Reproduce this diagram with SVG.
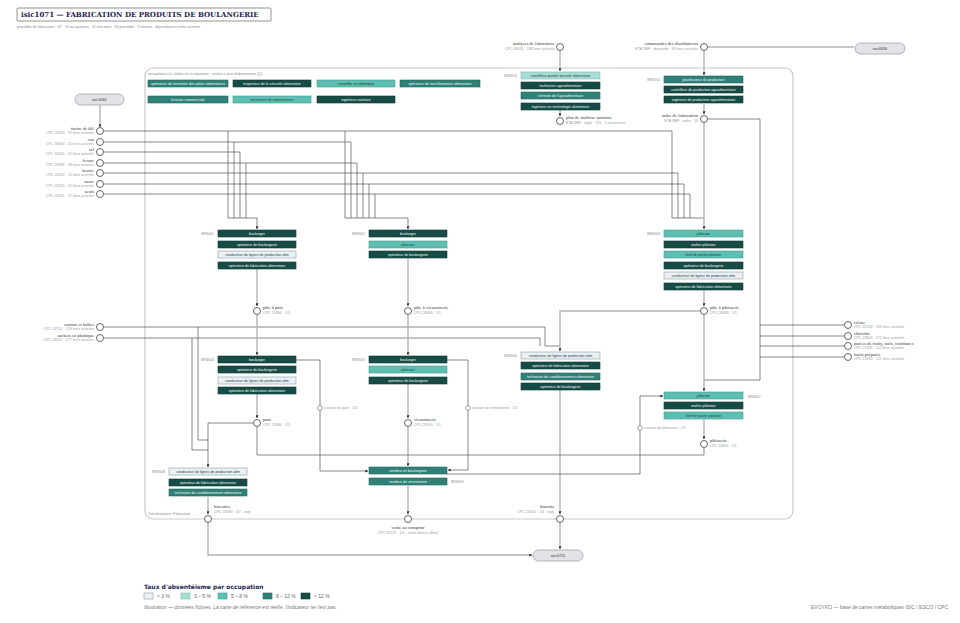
<svg xmlns="http://www.w3.org/2000/svg" width="960" height="623" viewBox="0 0 960 623">
<style>
.bg{fill:#ffffff}
.ttl{font-family:"DejaVu Serif",serif;font-weight:bold;font-size:7px;fill:#1c2450}
.sub{font-family:"Liberation Sans",sans-serif;font-size:3.6px;fill:#888}
.nm{font-family:"Liberation Serif",serif;font-size:4.6px;fill:#333}
.cd{font-family:"Liberation Sans",sans-serif;font-size:3.6px;fill:#999}
.bx{font-family:"Liberation Sans",sans-serif;font-size:3.6px;text-anchor:middle}
.wt{fill:#eef7f5}
.dk{fill:#1d3b3a}
.code{font-family:"Liberation Sans",sans-serif;font-size:3.4px;fill:#888}
.c0{fill:#eaf1f5;stroke:#8a9aa5;stroke-width:0.6}
.c1{fill:#a8ddd5;stroke:#7cbfb5;stroke-width:0.6}
.c2{fill:#5cbfb1;stroke:#3f9e92;stroke-width:0.6}
.c3{fill:#2f8077;stroke:#236a62;stroke-width:0.6}
.c4{fill:#174c46;stroke:#0f3a35;stroke-width:0.6}
.nd{fill:#fff;stroke:#555;stroke-width:0.9}
.sn{fill:#fff;stroke:#777;stroke-width:0.7}
.pill{fill:#e2e2e7;stroke:#9a9aa2;stroke-width:0.7}
.pt{font-family:"Liberation Sans",sans-serif;font-size:4px;fill:#333;text-anchor:middle}
.ln{fill:none;stroke:#555;stroke-width:0.7}
.pl{fill:none;stroke:#b4b4b4;stroke-width:1.4}
.ct{fill:none;stroke:#c9c9c9;stroke-width:1.2}
.lg{font-family:"DejaVu Sans",sans-serif;font-weight:bold;font-size:6px;fill:#1c2450}
.lt{font-family:"Liberation Sans",sans-serif;font-size:5px;fill:#666}
.ft{font-family:"Liberation Sans",sans-serif;font-size:5px;fill:#777}
</style>
<defs>
<marker id="ar" viewBox="0 0 6 6" refX="5.5" refY="3" markerWidth="3" markerHeight="3" orient="auto" markerUnits="userSpaceOnUse"><path d="M0,0 L6,3 L0,6 z" fill="#333"/></marker>
</defs>
<rect class="bg" width="960" height="623"/>

<g id="header">
<rect x="17" y="8" width="254" height="13" fill="#fff" stroke="#777" stroke-width="0.8" rx="1"/>
<text class="ttl" x="21" y="16.8">isic1071 — FABRICATION DE PRODUITS DE BOULANGERIE</text>
<text class="sub" x="17" y="28">procédés de fabrication · 47 · 13 occupations · 11 fonctions · 16 procédés · 3 intrants · dépendances entre activités</text>
</g>

<g id="container">
<rect class="ct" x="145" y="68" width="648" height="451" rx="8"/>
<text class="code" x="148" y="75">occupations à la chaîne sur la répartition · couleur = taux d'absentéisme (Q)</text>
<text class="code" x="148" y="515" font-style="italic">Transformation / Fabrication</text>
</g>

<g id="occupations-legend">
<rect class="c3" x="148" y="80" width="80" height="7"/><text class="bx wt" x="188" y="84.8">opératrice de formation des pâtes alimentaires</text>
<rect class="c4" x="233" y="80" width="78" height="7"/><text class="bx wt" x="272" y="84.8">inspecteur de la sécurité alimentaire</text>
<rect class="c2" x="317" y="80" width="78" height="7"/><text class="bx dk" x="356" y="84.8">conseiller en diététique</text>
<rect class="c3" x="400" y="80" width="80" height="7"/><text class="bx wt" x="440" y="84.8">opérateur de transformation alimentaire</text>
<rect class="c3" x="148" y="96" width="80" height="7"/><text class="bx wt" x="188" y="100.8">livreuse commerciale</text>
<rect class="c2" x="233" y="96" width="78" height="7"/><text class="bx dk" x="272" y="100.8">technicien de maintenance</text>
<rect class="c4" x="317" y="96" width="78" height="7"/><text class="bx wt" x="356" y="100.8">ingénieur sanitaire</text>
</g>

<g id="connectors">
<path class="pl" d="M100,105 V127" marker-end="url(#ar)"/>
<path class="ln" d="M104,131 H672 V218"/>
<path class="ln" d="M228,131 V218"/>
<path class="ln" d="M345,131 V218"/>
<path class="ln" d="M104,142 H351 V218"/>
<path class="ln" d="M234,142 V218"/>
<path class="ln" d="M104,152 H240 V218"/>
<path class="ln" d="M104,163 H357 V218"/>
<path class="ln" d="M246,163 V218"/>
<path class="ln" d="M104,173 H678 V218"/>
<path class="ln" d="M363,173 V218"/>
<path class="ln" d="M104,184 H684 V218"/>
<path class="ln" d="M369,184 V218"/>
<path class="ln" d="M104,194 H690 V218"/>
<path class="ln" d="M375,194 V218"/>
<path class="ln" d="M228,218 H257 V229" marker-end="url(#ar)"/>
<path class="ln" d="M345,218 H408 V229" marker-end="url(#ar)"/>
<path class="ln" d="M672,218 H704"/>
<path class="ln" d="M104,327 H545 V346 H560"/>
<path class="ln" d="M104,338 H540 V346"/>
<path class="ln" d="M198,327 V440 H208"/>
<path class="ln" d="M192,338 V450 H208"/>
<path class="ln" d="M844,325 H760"/>
<path class="ln" d="M844,336 H760"/>
<path class="ln" d="M844,346 H760"/>
<path class="ln" d="M844,357 H760"/>
<path class="ln" d="M708,119 H760 V380 H704"/>
<path class="pl" d="M257,269 V306" marker-end="url(#ar)"/>
<path class="pl" d="M257,315 V355" marker-end="url(#ar)"/>
<path class="pl" d="M257,394 V418" marker-end="url(#ar)"/>
<path class="pl" d="M408,258 V306" marker-end="url(#ar)"/>
<path class="pl" d="M408,315 V355" marker-end="url(#ar)"/>
<path class="pl" d="M408,384 V418" marker-end="url(#ar)"/>
<path class="pl" d="M408,427 V466" marker-end="url(#ar)"/>
<path class="pl" d="M408,486 V514" marker-end="url(#ar)"/>
<path class="pl" d="M560,51 V71" marker-end="url(#ar)"/>
<path class="pl" d="M560,110 V116" marker-end="url(#ar)"/>
<path class="pl" d="M704,51 V75" marker-end="url(#ar)"/>
<path class="pl" d="M704,104 V114" marker-end="url(#ar)"/>
<path class="pl" d="M704,123 V229" marker-end="url(#ar)"/>
<path class="pl" d="M704,290 V306" marker-end="url(#ar)"/>
<path class="pl" d="M704,315 V391" marker-end="url(#ar)"/>
<path class="pl" d="M704,419 V439" marker-end="url(#ar)"/>
<path class="pl" d="M700,311 H560 V351" marker-end="url(#ar)"/>
<path class="pl" d="M560,390 V514" marker-end="url(#ar)"/>
<path class="pl" d="M560,523 V549" marker-end="url(#ar)"/>
<path class="pl" d="M708,47 H854"/>
<path class="ln" d="M257,427 V455 H704 V448"/>
<path class="ln" d="M253,423 H208 V467" marker-end="url(#ar)"/>
<path class="pl" d="M208,497 V514" marker-end="url(#ar)"/>
<path class="pl" d="M208,523 V555 H532" marker-end="url(#ar)"/>
<path class="ln" d="M296,360 H320 V471 H368" marker-end="url(#ar)"/>
<path class="ln" d="M447,360 H468 V470 H448" marker-end="url(#ar)"/>
<path class="ln" d="M447,474 H640 V396 H663" marker-end="url(#ar)"/>
</g>

<g id="pill-isic1061"><rect class="pill" x="75" y="94" width="49" height="11" rx="5.5"/><text class="pt" x="99.5" y="101">isic1061</text></g>
<g id="pill-isic4630"><rect class="pill" x="855" y="43" width="50" height="11" rx="5.5"/><text class="pt" x="880" y="50">isic4630</text></g>
<g id="pill-isic4721"><rect class="pill" x="533" y="550" width="50" height="11" rx="5.5"/><text class="pt" x="558" y="557">isic4721</text></g>

<g id="in-farine"><circle class="nd" cx="100" cy="131" r="3.5"/><text class="nm" x="94" y="129.5" text-anchor="end">farine de blé</text><text class="cd" x="94" y="134" text-anchor="end">CPC 23110 · 29 liens activités</text></g>
<g id="in-eau"><circle class="nd" cx="100" cy="142" r="3.5"/><text class="nm" x="94" y="140.5" text-anchor="end">eau</text><text class="cd" x="94" y="145" text-anchor="end">CPC 18000 · 21 liens activités</text></g>
<g id="in-sel"><circle class="nd" cx="100" cy="152" r="3.5"/><text class="nm" x="94" y="150.5" text-anchor="end">sel</text><text class="cd" x="94" y="155" text-anchor="end">CPC 16200 · 15 liens activités</text></g>
<g id="in-levure"><circle class="nd" cx="100" cy="163" r="3.5"/><text class="nm" x="94" y="161.5" text-anchor="end">levure</text><text class="cd" x="94" y="166" text-anchor="end">CPC 23996 · 18 liens activités</text></g>
<g id="in-beurre"><circle class="nd" cx="100" cy="173" r="3.5"/><text class="nm" x="94" y="171.5" text-anchor="end">beurre</text><text class="cd" x="94" y="176" text-anchor="end">CPC 22241 · 11 liens activités</text></g>
<g id="in-sucre"><circle class="nd" cx="100" cy="184" r="3.5"/><text class="nm" x="94" y="182.5" text-anchor="end">sucre</text><text class="cd" x="94" y="187" text-anchor="end">CPC 23520 · 16 liens activités</text></g>
<g id="in-oeufs"><circle class="nd" cx="100" cy="194" r="3.5"/><text class="nm" x="94" y="192.5" text-anchor="end">œufs</text><text class="cd" x="94" y="197" text-anchor="end">CPC 02931 · 17 liens activités</text></g>
<g id="in-cartons"><circle class="nd" cx="100" cy="327" r="3.5"/><text class="nm" x="94" y="325.5" text-anchor="end">cartons et boîtes</text><text class="cd" x="94" y="330" text-anchor="end">CPC 32151 · 128 liens activités</text></g>
<g id="in-sachets"><circle class="nd" cx="100" cy="338" r="3.5"/><text class="nm" x="94" y="336.5" text-anchor="end">sachets en plastique</text><text class="cd" x="94" y="341" text-anchor="end">CPC 36410 · 177 liens activités</text></g>

<g id="in-creme"><circle class="nd" cx="848" cy="325" r="3.5"/><text class="nm" x="854" y="323.5">crème</text><text class="cd" x="854" y="328">CPC 22120 · 120 liens activités</text></g>
<g id="in-chocolat"><circle class="nd" cx="848" cy="336" r="3.5"/><text class="nm" x="854" y="334.5">chocolat</text><text class="cd" x="854" y="339">CPC 23650 · 171 liens activités</text></g>
<g id="in-purees"><circle class="nd" cx="848" cy="346" r="3.5"/><text class="nm" x="854" y="344.5">purées de fruits, noix, confitures</text><text class="cd" x="854" y="349">CPC 21400 · 112 liens activités</text></g>
<g id="in-fruits"><circle class="nd" cx="848" cy="357" r="3.5"/><text class="nm" x="854" y="355.5">fruits préparés</text><text class="cd" x="854" y="360">CPC 21490 · 121 liens activités</text></g>

<g id="n-analyses"><circle class="nd" cx="560" cy="47" r="3.5"/><text class="nm" x="555" y="45" text-anchor="end">analyses de laboratoire</text><text class="cd" x="555" y="49.5" text-anchor="end">CPC 83441 · 138 liens activités</text></g>
<g id="n-commandes"><circle class="nd" cx="704" cy="47" r="3.5"/><text class="nm" x="698" y="45" text-anchor="end">commandes des distributeurs</text><text class="cd" x="698" y="49.5" text-anchor="end">ETA.3MF · demande · 18 liens activités</text></g>
<g id="n-plan"><circle class="nd" cx="560" cy="121" r="3.5"/><text class="nm" x="566" y="119">plan de maîtrise sanitaire</text><text class="cd" x="566" y="123.5">ETA.3MF · règle · 131 · 1 occurrence</text></g>
<g id="n-ordre"><circle class="nd" cx="704" cy="119" r="3.5"/><text class="nm" x="698" y="117" text-anchor="end">ordre de fabrication</text><text class="cd" x="698" y="121.5" text-anchor="end">ETA.3MF · ordre · 19</text></g>
<g id="n-pate-pain"><circle class="nd" cx="257" cy="311" r="3.5"/><text class="nm" x="263" y="309">pâte à pain</text><text class="cd" x="263" y="313.5">CPC 23490 · 1/3</text></g>
<g id="n-pate-vien"><circle class="nd" cx="408" cy="311" r="3.5"/><text class="nm" x="414" y="309">pâte à viennoiserie</text><text class="cd" x="414" y="313.5">CPC 23490 · 1/1</text></g>
<g id="n-pate-pat"><circle class="nd" cx="704" cy="311" r="3.5"/><text class="nm" x="710" y="309">pâte à pâtisserie</text><text class="cd" x="710" y="313.5">CPC 23490 · 1/1</text></g>
<g id="n-pain"><circle class="nd" cx="257" cy="423" r="3.5"/><text class="nm" x="263" y="421">pain</text><text class="cd" x="263" y="425.5">CPC 23490 · 1/2</text></g>
<g id="n-vien"><circle class="nd" cx="408" cy="423" r="3.5"/><text class="nm" x="414" y="421">viennoiserie</text><text class="cd" x="414" y="425.5">CPC 23910 · 1/1</text></g>
<g id="n-pat"><circle class="nd" cx="704" cy="444" r="3.5"/><text class="nm" x="710" y="442">pâtisserie</text><text class="cd" x="710" y="446.5">CPC 23490 · 1/1</text></g>
<g id="n-biscottes"><circle class="nd" cx="208" cy="519" r="3.5"/><text class="nm" x="214" y="508">biscottes</text><text class="cd" x="214" y="512.5">CPC 23490 · 1/7 · sept</text></g>
<g id="n-vente"><circle class="nd" cx="408" cy="519" r="3.5"/><text class="nm" x="408" y="529" text-anchor="middle">vente au comptoir</text><text class="cd" x="408" y="533.5" text-anchor="middle">CPC 62122 · 1/4 · vente directe (bloc)</text></g>
<g id="n-biscuits"><circle class="nd" cx="560" cy="519" r="3.5"/><text class="nm" x="554" y="508" text-anchor="end">biscuits</text><text class="cd" x="554" y="512.5" text-anchor="end">CPC 23410 · 1/4 · sept</text></g>

<g id="s-cuisson-pain"><circle class="sn" cx="320" cy="408" r="2.3"/><text class="cd" x="324" y="409.3">cuisson du pain · 1/2</text></g>
<g id="s-cuisson-vien"><circle class="sn" cx="468" cy="408" r="2.3"/><text class="cd" x="472" y="409.3">cuisson de viennoiserie · 1/1</text></g>
<g id="s-cuisson-pat"><circle class="sn" cx="640" cy="428" r="2.3"/><text class="cd" x="644" y="429.3">cuisson de pâtisserie · 1/1</text></g>

<g id="a-qualite">
<text class="code" x="517" y="77" text-anchor="end">BRS014</text>
<rect class="c1" x="521" y="72" width="79" height="7"/><text class="bx dk" x="560.5" y="76.8">contrôleur qualité sécurité alimentaire</text>
<rect class="c4" x="521" y="82" width="79" height="7"/><text class="bx wt" x="560.5" y="86.8">technicien agroalimentaire</text>
<rect class="c3" x="521" y="92" width="79" height="7"/><text class="bx wt" x="560.5" y="96.8">chimiste de l'agroalimentaire</text>
<rect class="c4" x="521" y="103" width="79" height="7"/><text class="bx wt" x="560.5" y="107.8">ingénieur en technologie alimentaire</text>
</g>
<g id="a-planif">
<text class="code" x="660" y="81" text-anchor="end">BRS015</text>
<rect class="c3" x="664" y="76" width="79" height="7"/><text class="bx wt" x="703.5" y="80.8">planificateur de production</text>
<rect class="c4" x="664" y="86" width="79" height="7"/><text class="bx wt" x="703.5" y="90.8">contrôleur de production agroalimentaire</text>
<rect class="c4" x="664" y="96" width="79" height="7"/><text class="bx wt" x="703.5" y="100.8">ingénieur de production agroalimentaire</text>
</g>
<g id="a-petrissage-pain">
<text class="code" x="214" y="235" text-anchor="end">BRS001</text>
<rect class="c4" x="218" y="230" width="78" height="7"/><text class="bx wt" x="257" y="234.8">boulanger</text>
<rect class="c4" x="218" y="241" width="78" height="7"/><text class="bx wt" x="257" y="245.8">opérateur de boulangerie</text>
<rect class="c0" x="218" y="251" width="78" height="7"/><text class="bx dk" x="257" y="255.8">conducteur de lignes de production alim</text>
<rect class="c4" x="218" y="262" width="78" height="7"/><text class="bx wt" x="257" y="266.8">opérateur de fabrication alimentaire</text>
</g>
<g id="a-petrissage-vien">
<text class="code" x="365" y="235" text-anchor="end">BRS002</text>
<rect class="c4" x="369" y="230" width="78" height="7"/><text class="bx wt" x="408" y="234.8">boulanger</text>
<rect class="c2" x="369" y="241" width="78" height="7"/><text class="bx dk" x="408" y="245.8">pâtissier</text>
<rect class="c4" x="369" y="251" width="78" height="7"/><text class="bx wt" x="408" y="255.8">opérateur de boulangerie</text>
</g>
<g id="a-petrissage-pat">
<text class="code" x="660" y="235" text-anchor="end">BRS003</text>
<rect class="c2" x="664" y="230" width="79" height="7"/><text class="bx dk" x="703.5" y="234.8">pâtissier</text>
<rect class="c4" x="664" y="241" width="79" height="7"/><text class="bx wt" x="703.5" y="245.8">maître pâtissier</text>
<rect class="c2" x="664" y="251" width="79" height="7"/><text class="bx dk" x="703.5" y="255.8">chef de partie pâtissier</text>
<rect class="c4" x="664" y="262" width="79" height="7"/><text class="bx wt" x="703.5" y="266.8">opérateur de boulangerie</text>
<rect class="c0" x="664" y="272" width="79" height="7"/><text class="bx dk" x="703.5" y="276.8">conducteur de lignes de production alim</text>
<rect class="c4" x="664" y="283" width="79" height="7"/><text class="bx wt" x="703.5" y="287.8">opérateur de fabrication alimentaire</text>
</g>
<g id="a-cuisson-pain">
<text class="code" x="214" y="361" text-anchor="end">BRS004</text>
<rect class="c4" x="218" y="356" width="78" height="7"/><text class="bx wt" x="257" y="360.8">boulanger</text>
<rect class="c4" x="218" y="366" width="78" height="7"/><text class="bx wt" x="257" y="370.8">opérateur de boulangerie</text>
<rect class="c0" x="218" y="377" width="78" height="7"/><text class="bx dk" x="257" y="381.8">conducteur de lignes de production alim</text>
<rect class="c4" x="218" y="387" width="78" height="7"/><text class="bx wt" x="257" y="391.8">opérateur de fabrication alimentaire</text>
</g>
<g id="a-cuisson-vien">
<text class="code" x="365" y="361" text-anchor="end">BRS005</text>
<rect class="c4" x="369" y="356" width="78" height="7"/><text class="bx wt" x="408" y="360.8">boulanger</text>
<rect class="c2" x="369" y="366" width="78" height="7"/><text class="bx dk" x="408" y="370.8">pâtissier</text>
<rect class="c4" x="369" y="377" width="78" height="7"/><text class="bx wt" x="408" y="381.8">opérateur de boulangerie</text>
</g>
<g id="a-biscuits">
<text class="code" x="517" y="357" text-anchor="end">BRS006</text>
<rect class="c0" x="521" y="352" width="79" height="7"/><text class="bx dk" x="560.5" y="356.8">conducteur de lignes de production alim</text>
<rect class="c4" x="521" y="362" width="79" height="7"/><text class="bx wt" x="560.5" y="366.8">opérateur de fabrication alimentaire</text>
<rect class="c3" x="521" y="373" width="79" height="7"/><text class="bx wt" x="560.5" y="377.8">technicien de conditionnement alimentaire</text>
<rect class="c4" x="521" y="383" width="79" height="7"/><text class="bx wt" x="560.5" y="387.8">opérateur de boulangerie</text>
</g>
<g id="a-patisserie">
<text class="code" x="748" y="397.5">BRS007</text>
<rect class="c2" x="664" y="392" width="79" height="7"/><text class="bx dk" x="703.5" y="396.8">pâtissier</text>
<rect class="c4" x="664" y="402" width="79" height="7"/><text class="bx wt" x="703.5" y="406.8">maître pâtissier</text>
<rect class="c2" x="664" y="412" width="79" height="7"/><text class="bx dk" x="703.5" y="416.8">chef de partie pâtissier</text>
</g>
<g id="a-biscottes">
<text class="code" x="165" y="473" text-anchor="end">BRS008</text>
<rect class="c0" x="169" y="468" width="78" height="7"/><text class="bx dk" x="208" y="472.8">conducteur de lignes de production alim</text>
<rect class="c4" x="169" y="479" width="78" height="7"/><text class="bx wt" x="208" y="483.8">opérateur de fabrication alimentaire</text>
<rect class="c3" x="169" y="489" width="78" height="7"/><text class="bx wt" x="208" y="493.8">technicien de conditionnement alimentaire</text>
</g>
<g id="a-vente">
<rect class="c3" x="369" y="467" width="78" height="7"/><text class="bx wt" x="408" y="471.8">vendeur en boulangerie</text>
<rect class="c3" x="369" y="478" width="78" height="7"/><text class="bx wt" x="408" y="482.8">vendeur de viennoiserie</text>
<text class="code" x="451" y="483">BRS009</text>
</g>

<g id="legend">
<text class="lg" x="144" y="589">Taux d'absentéisme par occupation</text>
<rect class="c0" x="144" y="593" width="9" height="6"/><text class="lt" x="157" y="598">&lt; 3 %</text>
<rect class="c1" x="181" y="593" width="9" height="6"/><text class="lt" x="194" y="598">3 – 5 %</text>
<rect class="c2" x="218" y="593" width="9" height="6"/><text class="lt" x="231" y="598">5 – 8 %</text>
<rect class="c3" x="263" y="593" width="9" height="6"/><text class="lt" x="276" y="598">8 – 12 %</text>
<rect class="c4" x="301" y="593" width="9" height="6"/><text class="lt" x="314" y="598">&gt; 12 %</text>
<text class="ft" x="144" y="609" font-style="italic">Illustration — données fictives. La carte de référence est réelle, l'indicateur ne l'est pas.</text>
<text class="ft" x="948" y="609" text-anchor="end">EVOYKO — base de cartes métaboliques ISIC / ESCO / CPC</text>
</g>
</svg>
